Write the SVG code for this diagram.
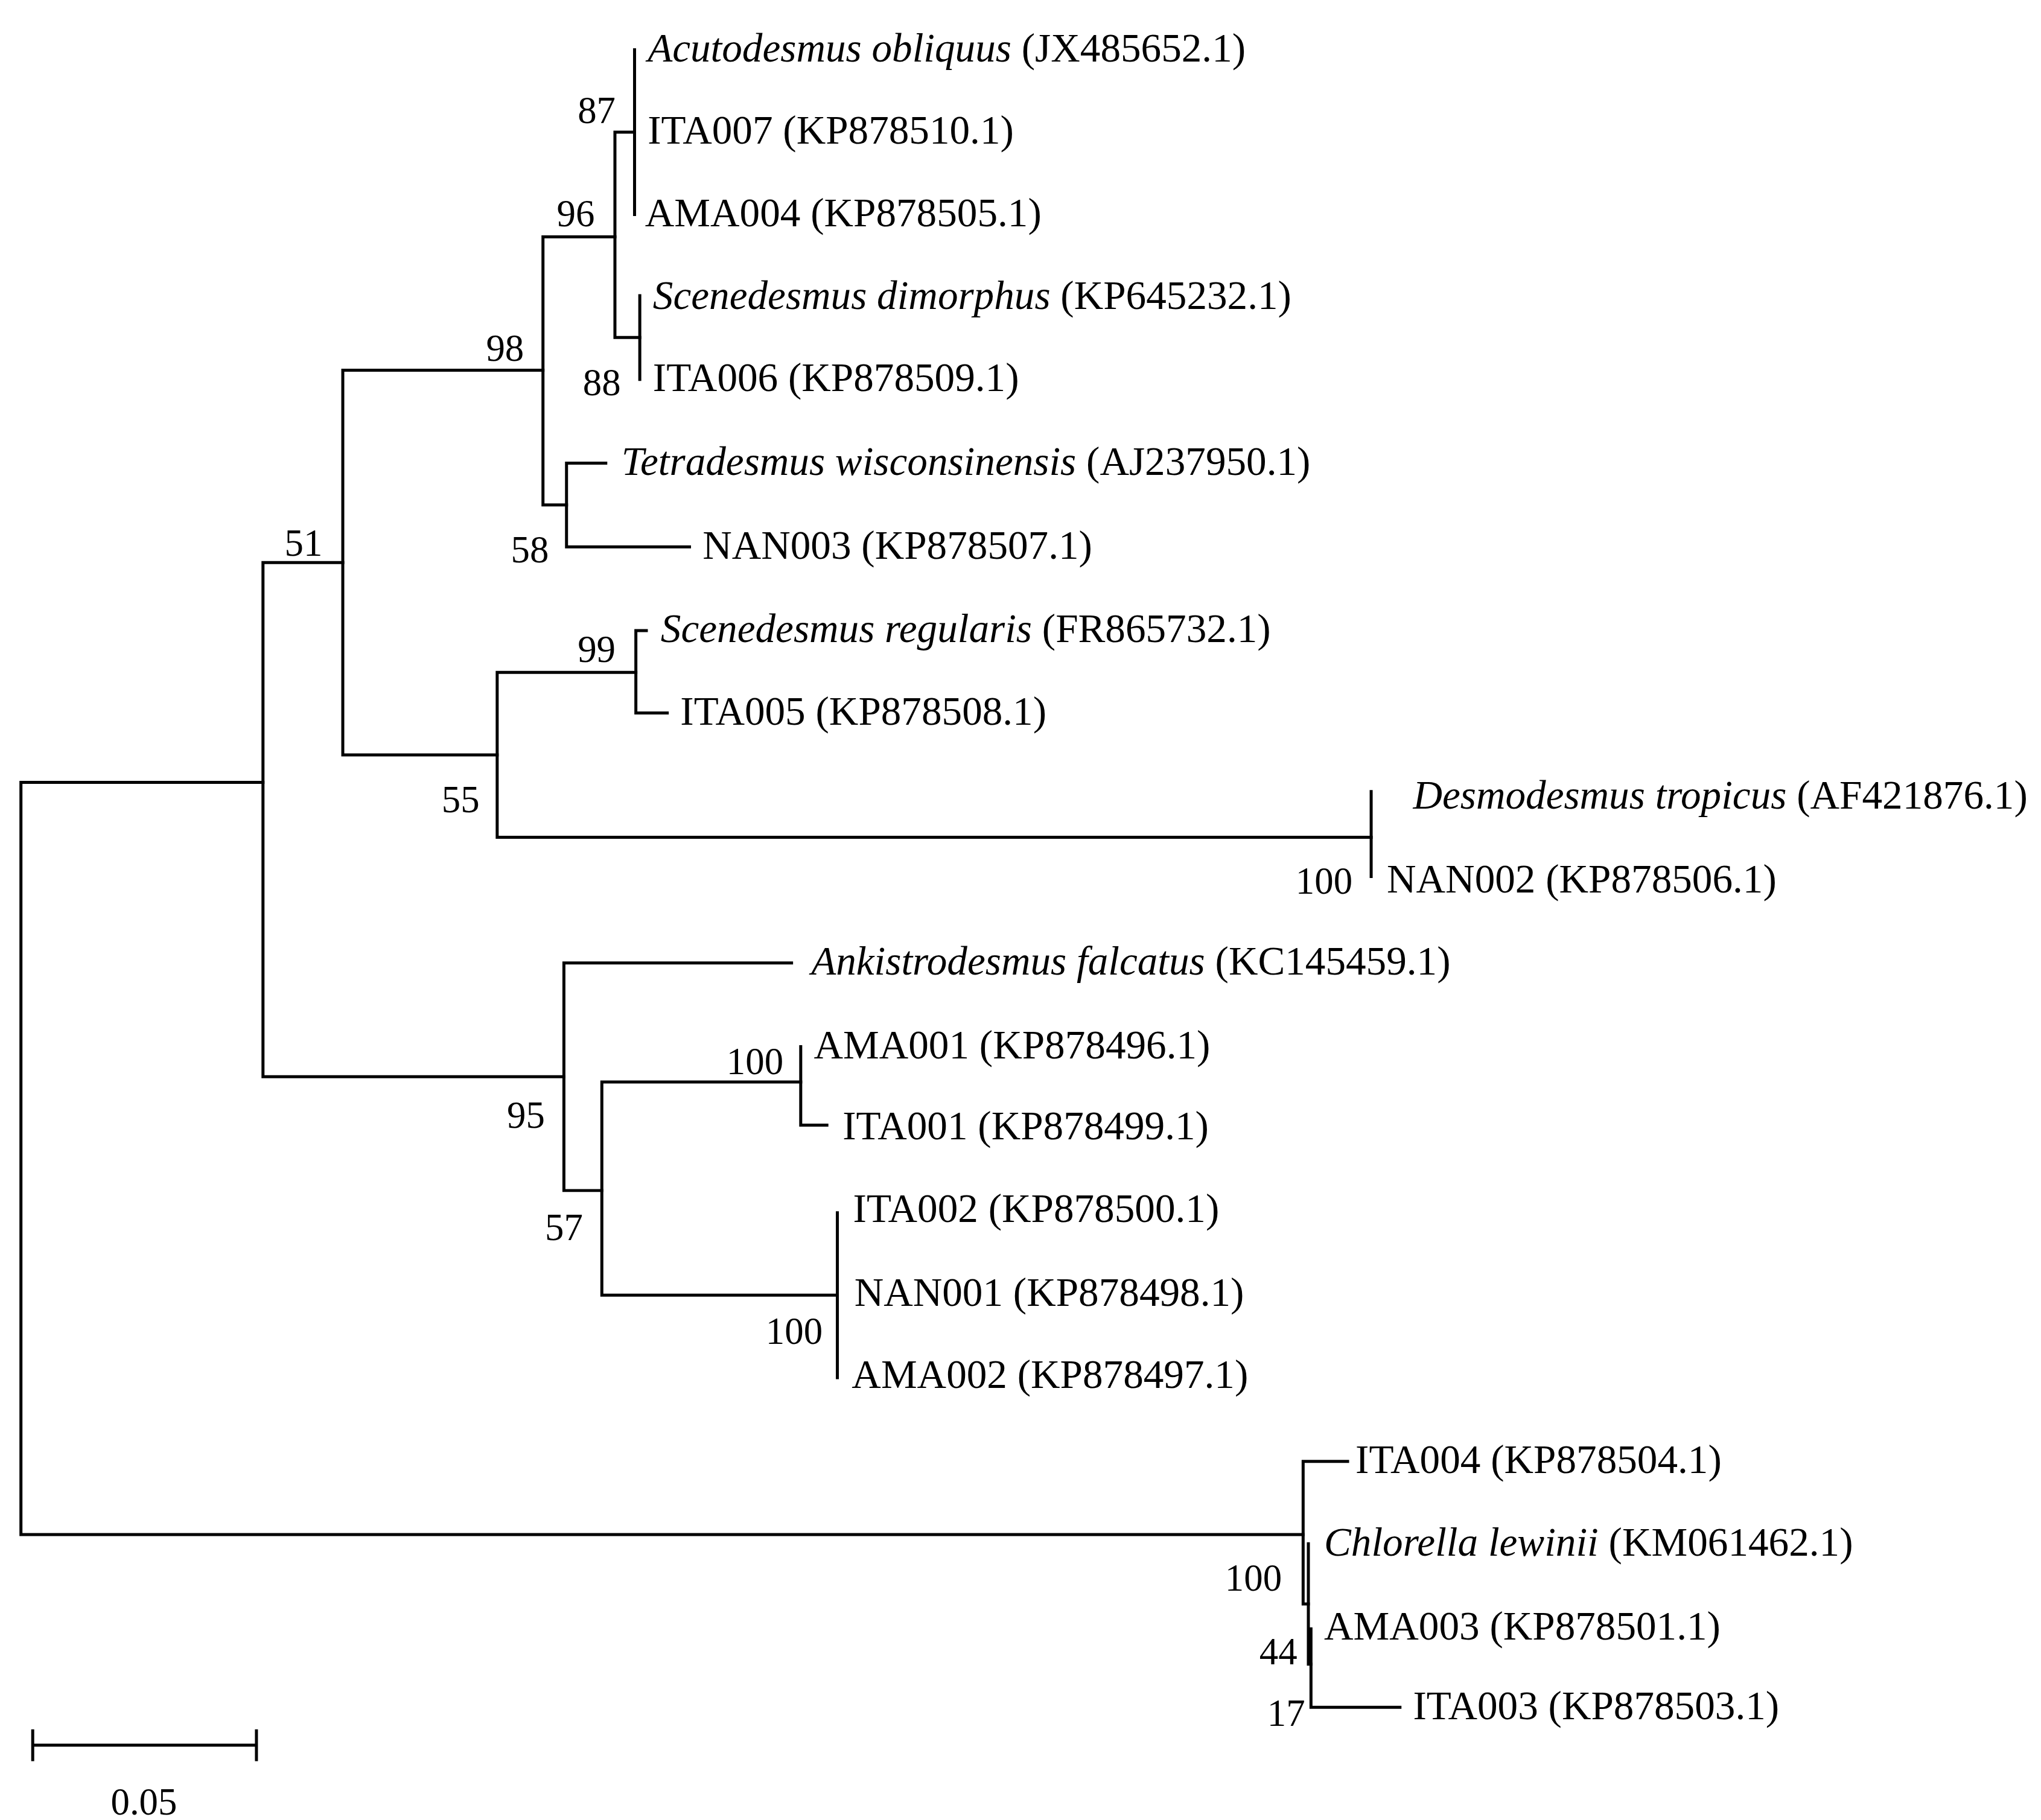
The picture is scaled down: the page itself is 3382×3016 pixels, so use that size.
<svg xmlns="http://www.w3.org/2000/svg" width="3382" height="3016" viewBox="0 0 3382 3016">
<style>
.t{font-family:"Liberation Serif","Times New Roman",serif;font-size:31px;fill:#000}
.i{font-style:italic}
.b{font-family:"Liberation Serif","Times New Roman",serif;font-size:29px;fill:#000;text-anchor:middle}
.e{fill:none;stroke:#000;stroke-width:2.3;stroke-linecap:square}
</style>
<rect width="3382" height="3016" fill="#fff"/>
<g transform="scale(2.168)">
<g id="connectors" class="e">
<path d="M16,598V1173M16,598H201M16,1173H996"/>
<path d="M201,430V823M201,430H262M201,823H431"/>
<path d="M262,283V577M262,283H415M262,577H380"/>
<path d="M415,181V386M415,181H470M415,386H433"/>
<path d="M470,101V258M470,101H485M470,258H489"/>
<path d="M485,38V164M489,226V290"/>
<path d="M433,354V418M433,354H463M433,418H527"/>
<path d="M380,514V640M380,514H486M380,640H1048"/>
<path d="M486,482V545M486,482H494M486,545H510"/>
<path d="M1048,605V670"/>
<path d="M431,736V910M431,736H605M431,910H460"/>
<path d="M460,827V990M460,827H612M460,990H640"/>
<path d="M612,800V860M612,860H632"/>
<path d="M640,927V1053"/>
<path d="M996,1117V1226M996,1117H1030M996,1226H1000"/>
<path d="M1000,1180V1272M1000,1272H1002"/>
<path d="M1002,1245V1305M1002,1305H1070"/>
<path d="M25,1334H196M25,1323V1345M196,1323V1345"/>
</g>
<g id="leaves">
<g id="n1"><text class="t" x="495" y="47"><tspan class="i">Acutodesmus obliquus</tspan> (JX485652.1)</text></g>
<g id="n2"><text class="t" x="495" y="110">ITA007 (KP878510.1)</text></g>
<g id="n3"><text class="t" x="493" y="173">AMA004 (KP878505.1)</text></g>
<g id="n4"><text class="t" x="499" y="236"><tspan class="i">Scenedesmus dimorphus</tspan> (KP645232.1)</text></g>
<g id="n5"><text class="t" x="499" y="299">ITA006 (KP878509.1)</text></g>
<g id="n6"><text class="t" x="475" y="363"><tspan class="i">Tetradesmus wisconsinensis</tspan> (AJ237950.1)</text></g>
<g id="n7"><text class="t" x="537" y="427">NAN003 (KP878507.1)</text></g>
<g id="n8"><text class="t" x="505" y="491"><tspan class="i">Scenedesmus regularis</tspan> (FR865732.1)</text></g>
<g id="n9"><text class="t" x="520" y="554">ITA005 (KP878508.1)</text></g>
<g id="n10"><text class="t" x="1080" y="618"><tspan class="i">Desmodesmus tropicus</tspan> (AF421876.1)</text></g>
<g id="n11"><text class="t" x="1060" y="682">NAN002 (KP878506.1)</text></g>
<g id="n12"><text class="t" x="620" y="745"><tspan class="i">Ankistrodesmus falcatus</tspan> (KC145459.1)</text></g>
<g id="n13"><text class="t" x="622" y="809">AMA001 (KP878496.1)</text></g>
<g id="n14"><text class="t" x="644" y="871">ITA001 (KP878499.1)</text></g>
<g id="n15"><text class="t" x="652" y="934">ITA002 (KP878500.1)</text></g>
<g id="n16"><text class="t" x="653" y="998">NAN001 (KP878498.1)</text></g>
<g id="n17"><text class="t" x="651" y="1061">AMA002 (KP878497.1)</text></g>
<g id="n18"><text class="t" x="1036" y="1126">ITA004 (KP878504.1)</text></g>
<g id="n19"><text class="t" x="1012" y="1189"><tspan class="i">Chlorella lewinii</tspan> (KM061462.1)</text></g>
<g id="n20"><text class="t" x="1012" y="1253">AMA003 (KP878501.1)</text></g>
<g id="n21"><text class="t" x="1080" y="1314">ITA003 (KP878503.1)</text></g>
</g>
<g id="bootstrap">
<text class="b" x="456" y="94">87</text>
<text class="b" x="440" y="173">96</text>
<text class="b" x="386" y="276">98</text>
<text class="b" x="460" y="302">88</text>
<text class="b" x="405" y="430">58</text>
<text class="b" x="232" y="425">51</text>
<text class="b" x="456" y="506">99</text>
<text class="b" x="352" y="621">55</text>
<text class="b" x="1012" y="683">100</text>
<text class="b" x="402" y="862">95</text>
<text class="b" x="577" y="821">100</text>
<text class="b" x="431" y="948">57</text>
<text class="b" x="607" y="1027">100</text>
<text class="b" x="958" y="1216">100</text>
<text class="b" x="977" y="1272">44</text>
<text class="b" x="983" y="1319">17</text>
</g>
<g id="scale"><text class="b" x="110" y="1387">0.05</text></g>
</g>
</svg>
